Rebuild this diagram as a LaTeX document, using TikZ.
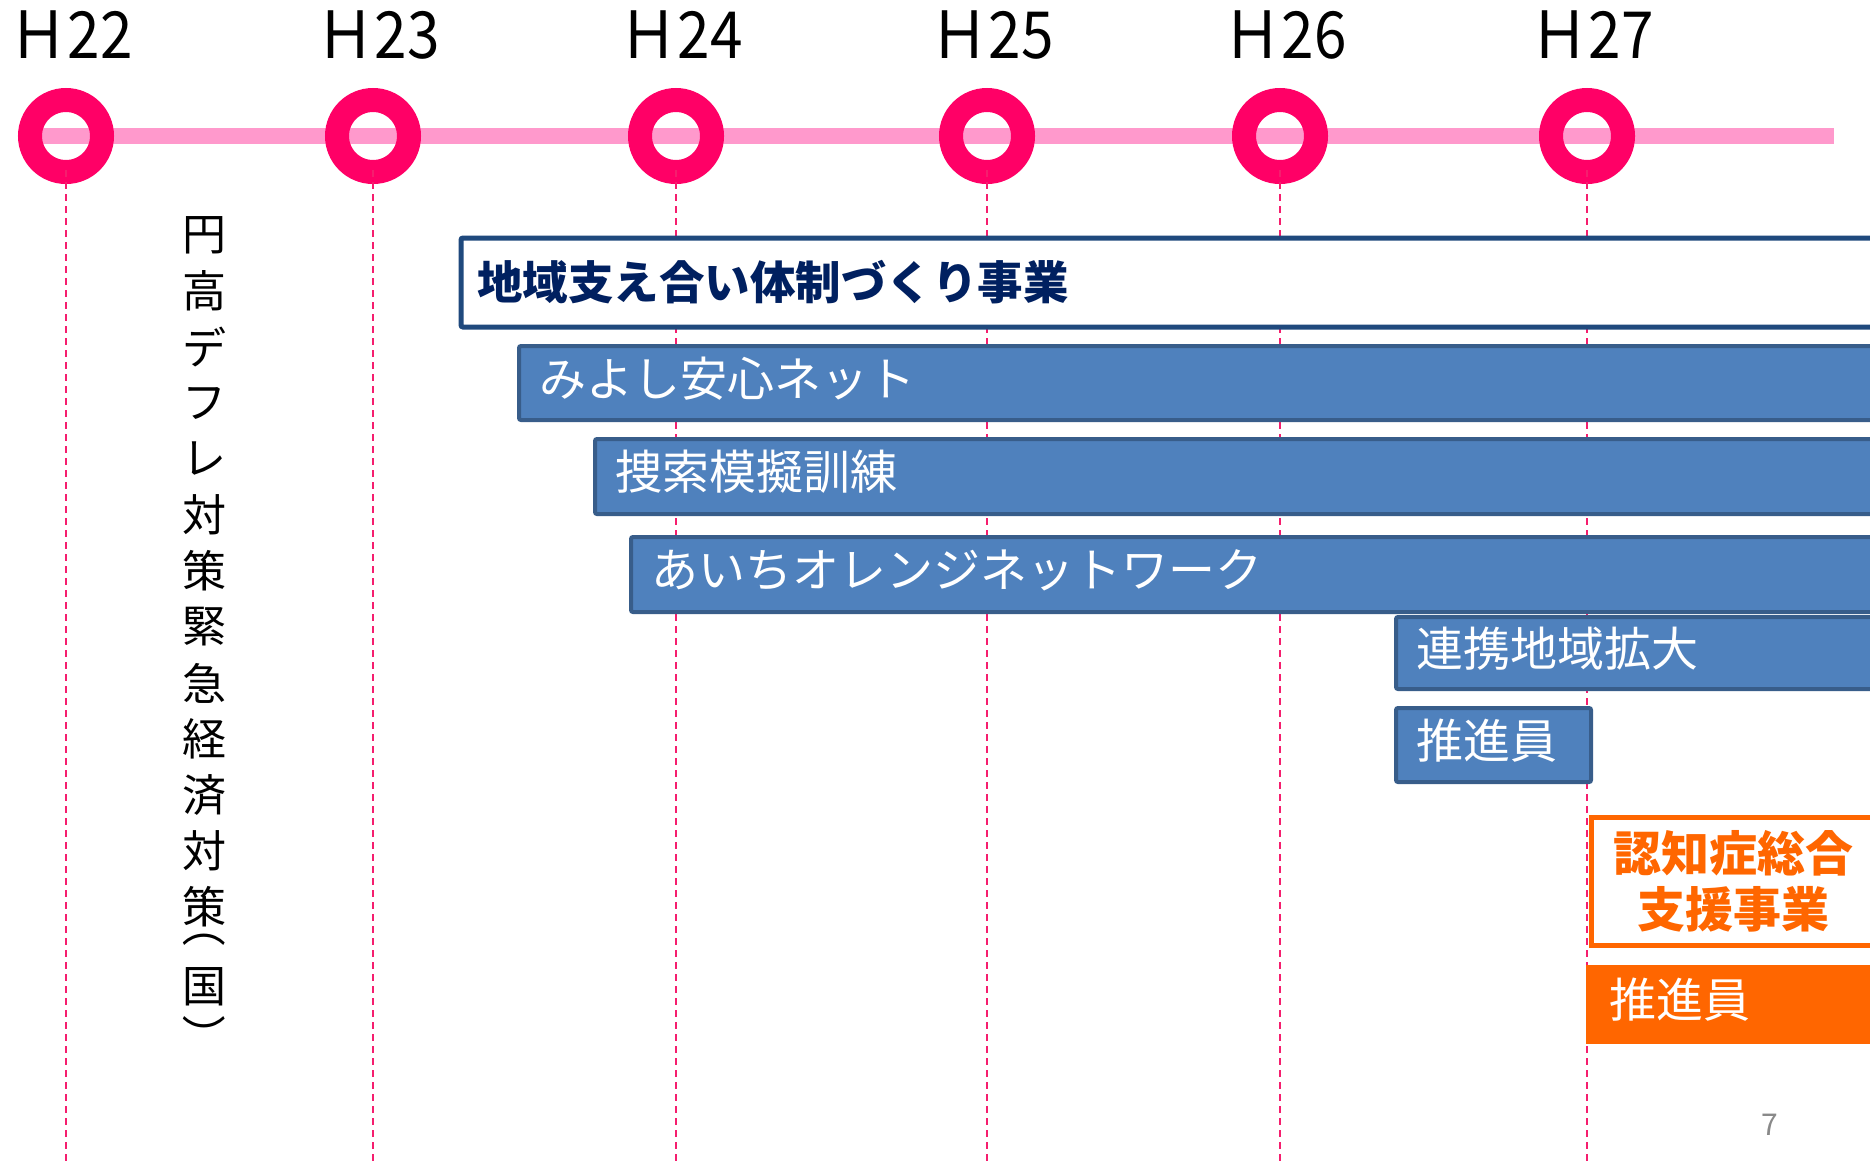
\documentclass[tikz,border=0pt]{standalone}
\usepackage{fontspec}
\setmainfont{Noto Sans CJK JP}
\definecolor{ringc}{RGB}{255,0,102}
\definecolor{linec}{RGB}{255,153,204}
\definecolor{guidec}{RGB}{245,30,110}
\definecolor{bfill}{RGB}{79,129,189}
\definecolor{bborder}{RGB}{56,93,138}
\definecolor{navy}{RGB}{31,73,125}
\definecolor{navytext}{RGB}{0,32,96}
\definecolor{orangec}{RGB}{255,102,0}
\definecolor{pagegray}{RGB}{137,137,137}
\begin{document}
\begin{tikzpicture}[x=1pt,y=-1pt,
  ring/.style={circle, draw=ringc, line width=24pt, minimum size=72pt, inner sep=0pt},
  yearlab/.style={anchor=base, font=\fontsize{65}{70}\selectfont, inner sep=0pt},
  guide/.style={draw=guidec, line width=1.5pt, dash pattern=on 7pt off 5pt},
  tline/.style={draw=linec, line width=16pt},
  bluebox/.style={draw=bborder, fill=bfill, line width=4pt, rounded corners=2pt,
    anchor=north west, text=white, font=\fontsize{47}{50}\selectfont,
    align=left, inner ysep=0pt, inner xsep=20pt, text height=40pt, text depth=14pt},
  headbox/.style={draw=navy, fill=white, line width=5pt, rounded corners=2pt,
    anchor=north west, text=navytext, font=\bfseries\fontsize{45.5}{50}\selectfont,
    align=left, inner ysep=0pt, inner xsep=16pt},
  orangehead/.style={draw=orangec, fill=white, line width=5pt,
    anchor=north west, text=orangec, font=\bfseries\fontsize{48}{56}\selectfont,
    align=center, inner ysep=0pt, inner xsep=10pt},
  orangebox/.style={fill=orangec, anchor=north west, text=white,
    font=\fontsize{47}{50}\selectfont, align=left, inner ysep=0pt, inner xsep=23pt,
    text height=40pt, text depth=14pt},
  vchar/.style={font=\fontsize{44}{44}\selectfont, inner sep=0pt, anchor=center},
  pagenum/.style={font=\fontsize{30}{30}\selectfont, text=pagegray, anchor=base, inner sep=0pt}
]
\useasboundingbox (0,0) rectangle (1870,1163);
\clip (0,0) rectangle (1870,1163);
\fill[white] (0,0) rectangle (1870,1163);

% year positions
\coordinate (p22) at (66,136);
\coordinate (p23) at (373,136);
\coordinate (p24) at (676,136);
\coordinate (p25) at (987,136);
\coordinate (p26) at (1280,136);
\coordinate (p27) at (1587,136);
\coordinate (linestart) at (36,136);
\coordinate (lineend) at (1834,136);

% timeline bar
\draw[tline] (linestart) -- (lineend);

% rings
\foreach \y in {22,...,27}{
  \node[ring] (r\y) at (p\y) {};
}

% dashed guides
\foreach \y/\x in {22/66,23/373,24/676,25/987,26/1280,27/1587}{
  \coordinate (g\y) at (\x,1163);
  \draw[guide] (r\y.south) ++(0,14pt) -- (g\y);
}

% year labels
\node[yearlab] (l22) at (71,58) {\scalebox{0.9}[1]{Ｈ22}};
\node[yearlab] (l23) at (378,58) {\scalebox{0.9}[1]{Ｈ23}};
\node[yearlab] (l24) at (681,58) {\scalebox{0.9}[1]{Ｈ24}};
\node[yearlab] (l25) at (992,58) {\scalebox{0.9}[1]{Ｈ25}};
\node[yearlab] (l26) at (1285,58) {\scalebox{0.9}[1]{Ｈ26}};
\node[yearlab] (l27) at (1592,58) {\scalebox{0.9}[1]{Ｈ27}};

% vertical text
\foreach \c [count=\i] in {円,高,デ,フ,レ,対,策,緊,急,経,済,対,策}{
  \node[vchar] (v\i) at (204,{235+(\i-1)*56}) {\c};
}
\node[vchar, rotate=-90] (vp1) at (204,925) {（};
\node[vchar] (vk) at (204,987) {国};
\node[vchar, rotate=-90] (vp2) at (204,1036) {）};

% boxes
\node[headbox, minimum height=89pt, text width=1450pt] (b1) at (458.5,235.5) {地域支え合い体制づくり事業};
\node[bluebox, minimum height=74pt, text width=1400pt] (b2) at (517,344) {みよし安心ネット};
\node[bluebox, minimum height=75pt, text width=1300pt] (b3) at (593,437) {捜索模擬訓練};
\node[bluebox, minimum height=72pt, text width=500pt] (b5) at (1394,615) {連携地域拡大};
\node[bluebox, minimum height=75pt, text width=1300pt] (b4) at (629,535) {あいちオレンジネットワーク};
\node[bluebox, minimum height=74pt, text width=155pt] (b6) at (1394,706) {推進員};
\node[orangehead, minimum height=128pt, text width=265pt] (b7) at (1588.5,814.5) {認知症総合\\支援事業};
\node[orangebox, minimum height=79pt, text width=300pt] (b8) at (1586,965) {推進員};

% page number
\node[pagenum] (pg) at (1770,1135) {7};
\end{tikzpicture}
\end{document}
